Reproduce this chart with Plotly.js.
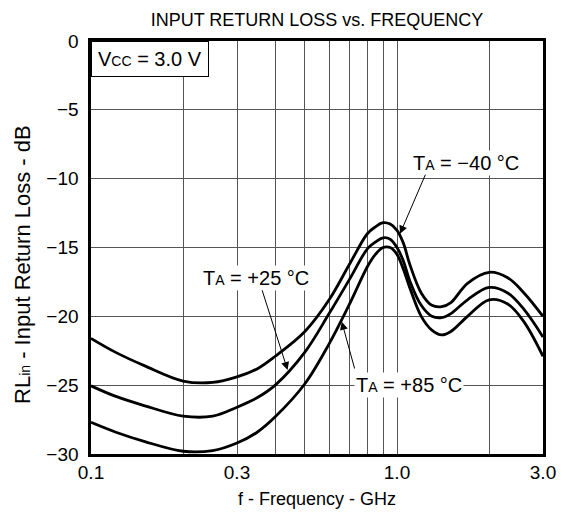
<!DOCTYPE html>
<html>
<head>
<meta charset="utf-8">
<script src="https://cdn.plot.ly/plotly-3.0.1.min.js"></script>
<style>
  html, body { margin: 0; padding: 0; background: #fff; }
  #chart { width: 569px; height: 514px; }
</style>
</head>
<body>
<div id="chart"></div>
<script>
// Frequency (GHz)
const freqGHz = [0.1, 0.12, 0.15, 0.2, 0.25, 0.3, 0.35, 0.4, 0.5, 0.6, 0.7, 0.8, 0.85, 0.9, 0.95, 1.0, 1.05, 1.1, 1.2, 1.3, 1.4, 1.5, 1.7, 2.0, 2.3, 2.6, 3.0];
// Input return loss (dB) per ambient temperature
const rlMinus40 = [-21.6, -22.6, -23.6, -24.7, -24.8, -24.4, -23.8, -22.9, -21.1, -18.8, -16.2, -14.0, -13.5, -13.2, -13.3, -13.75, -14.7, -16.2, -18.3, -19.2, -19.3, -19.0, -17.6, -16.8, -17.2, -18.3, -20.0];
const rlPlus25  = [-25.05, -25.8, -26.5, -27.25, -27.25, -26.6, -25.9, -25.0, -22.6, -19.8, -17.3, -15.1, -14.6, -14.3, -14.4, -15.0, -16.0, -17.4, -19.2, -20.0, -20.1, -19.8, -18.8, -17.9, -18.3, -19.5, -21.5];
const rlPlus85  = [-27.7, -28.4, -29.1, -29.8, -29.75, -29.2, -28.4, -27.3, -24.9, -22.0, -19.1, -16.4, -15.5, -15.0, -15.0, -15.5, -16.6, -17.9, -20.0, -21.0, -21.35, -21.1, -20.0, -18.8, -19.1, -20.4, -22.9];

// Axis ticks / grid
const xTickVals = [0.1, 0.2, 0.3, 0.4, 0.5, 0.6, 0.7, 0.8, 0.9, 1.0, 2.0, 3.0];
const xTickText = ['0.1', '', '0.3', '', '', '', '', '', '', '1.0', '', '3.0'];
const yTickVals = [0, -5, -10, -15, -20, -25, -30];

// Labels
const titleText = 'INPUT RETURN LOSS vs. FREQUENCY';
const xTitle = 'f - Frequency - GHz';
const yTitle = 'RL<span style="font-size:14px">in</span> - Input Return Loss - dB';
const vccLabel = 'V<span style="font-size:14px">CC</span> = 3.0 V';
const labelM40 = 'T<span style="font-size:14px">A</span> = \u221240 \u00B0C';
const labelP25 = 'T<span style="font-size:14px">A</span> = +25 \u00B0C';
const labelP85 = 'T<span style="font-size:14px">A</span> = +85 \u00B0C';

const FONT = 'Liberation Sans, Arial, sans-serif';
const lg = Math.log10;

function curve(y) {
  return {
    x: freqGHz, y: y, type: 'scatter', mode: 'lines',
    line: { color: '#000', width: 2.8, shape: 'spline', smoothing: 1 },
    hoverinfo: 'skip', showlegend: false
  };
}

const data = [curve(rlMinus40), curve(rlPlus25), curve(rlPlus85)];

function textAnn(text, f, y) {
  return { text: text, x: lg(f), y: y, xref: 'x', yref: 'y', showarrow: false,
           font: { family: FONT, size: 20, color: '#000' }, bgcolor: '#fff', borderpad: 1 };
}
function arrowAnn(fHead, yHead, fTail, yTail) {
  return { text: '', x: lg(fHead), y: yHead, ax: lg(fTail), ay: yTail,
           xref: 'x', yref: 'y', axref: 'x', ayref: 'y', showarrow: true,
           arrowhead: 2, arrowsize: 1.6, arrowwidth: 1, arrowcolor: '#000' };
}

const layout = {
  width: 569, height: 514,
  margin: { l: 91, r: 26, t: 41, b: 60 },
  paper_bgcolor: '#fff', plot_bgcolor: '#fff',
  font: { family: FONT, size: 19, color: '#000' },
  title: { text: titleText, font: { family: FONT, size: 18, color: '#000' },
           x: 0.5, xref: 'paper', xanchor: 'center', y: 0.962, yref: 'container', yanchor: 'middle' },
  xaxis: {
    type: 'log', range: [lg(0.1), lg(3.0)],
    tickmode: 'array', tickvals: xTickVals, ticktext: xTickText,
    showgrid: true, gridcolor: '#555', gridwidth: 1,
    showline: true, linecolor: '#000', linewidth: 2.6, mirror: true,
    ticks: '', zeroline: false,
    tickfont: { family: FONT, size: 19, color: '#000' },
    title: { text: xTitle, font: { family: FONT, size: 18, color: '#000' }, standoff: 10 }
  },
  yaxis: {
    range: [-30, 0], tickmode: 'array', tickvals: yTickVals,
    showgrid: true, gridcolor: '#555', gridwidth: 1,
    showline: true, linecolor: '#000', linewidth: 2.6, mirror: true,
    ticks: '', zeroline: false, ticklabelstandoff: 6,
    tickfont: { family: FONT, size: 19, color: '#000' },
    title: { text: '' }
  },
  annotations: [
    { text: yTitle, xref: 'paper', yref: 'paper', x: -0.1527, y: 0.46, xanchor: 'center', yanchor: 'middle',
      textangle: -90, showarrow: false, font: { family: FONT, size: 22, color: '#000' } },
    { text: vccLabel, xref: 'paper', yref: 'paper', x: 0, y: 1, xanchor: 'left', yanchor: 'top',
      showarrow: false, font: { family: FONT, size: 20, color: '#000' },
      bgcolor: '#fff', bordercolor: '#000', borderwidth: 1, borderpad: 6 },
    textAnn(labelM40, 1.68, -8.88),
    textAnn(labelP25, 0.3456, -17.23),
    textAnn(labelP85, 1.094, -25.0),
    arrowAnn(1.023, -14.0, 1.244, -9.6),
    arrowAnn(0.439, -23.9, 0.3612, -18.0),
    arrowAnn(0.66, -20.4, 0.729, -23.9)
  ]
};

Plotly.newPlot('chart', data, layout, { staticPlot: true, displayModeBar: false });
</script>
</body>
</html>
